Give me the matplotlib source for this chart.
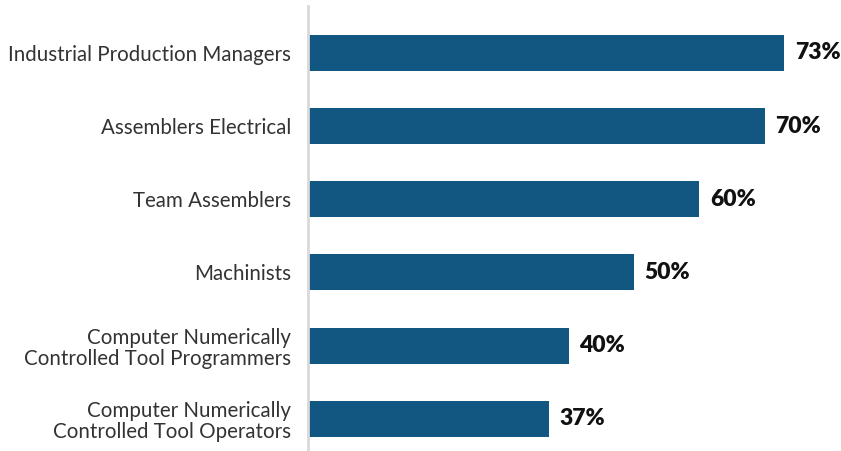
import matplotlib.pyplot as plt

ocupaciones = [
    'Industrial Production Managers',
    'Assemblers Electrical',
    'Team Assemblers',
    'Machinists',
    'Computer Numerically\nControlled Tool Programmers',
    'Computer Numerically\nControlled Tool Operators',
]
porcentajes = [73, 70, 60, 50, 40, 37]

color_barra = '#115782'

fig = plt.figure(figsize=(8.41, 4.51), dpi=100)
ax = fig.add_axes([308 / 841, 0.0, 1 - 308 / 841, 1 - 6 / 451])

posiciones = list(range(len(ocupaciones)))
ax.barh(posiciones, porcentajes, height=0.49, color=color_barra)

for pos, valor in zip(posiciones, porcentajes):
    ax.text(valor + 1.6, pos, f'{valor}%', va='center', ha='left',
            fontsize=16.5, fontweight='heavy', family='Lato', color='#111111')

ax.set_yticks(posiciones)
ax.set_yticklabels(ocupaciones, fontsize=14.8, family='Lato', color='#333333',
                   ha='right', linespacing=1.1)
ax.tick_params(axis='y', length=0, pad=12)
ax.set_xticks([])
ax.set_xlim(0, 81.7)
ax.set_ylim(5.44, -0.64)

for lado in ['top', 'right', 'bottom']:
    ax.spines[lado].set_visible(False)
ax.spines['left'].set_color('#d9d9d9')
ax.spines['left'].set_linewidth(2)

fig.savefig('out.png', dpi=100)
